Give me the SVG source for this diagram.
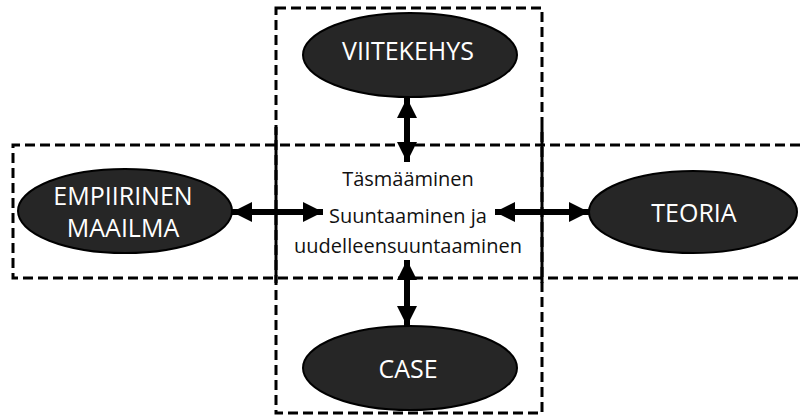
<svg xmlns="http://www.w3.org/2000/svg" width="800" height="419" viewBox="0 0 800 419">
  <style>
    .frame { fill: none; stroke: #000; stroke-width: 3; stroke-dasharray: 10 5; }
    .side { stroke: #000; stroke-width: 3; }
    .node ellipse { fill: #262626; stroke: #000; stroke-width: 2; }
    .node text { fill: #fff; font-family: "Open Sans", "Noto Sans", sans-serif; font-size: 25px; text-anchor: middle; }
    .link { stroke: #000; stroke-width: 6; fill: none; marker-start: url(#head); marker-end: url(#head); }
    .label { fill: #111; font-family: "Open Sans", "Noto Sans", sans-serif; font-size: 20px; text-anchor: middle; }
  </style>
  <defs>
    <marker id="head" viewBox="0 0 20 20" refX="20" refY="10" markerWidth="20" markerHeight="20" markerUnits="userSpaceOnUse" orient="auto-start-reverse">
      <path d="M0,0 L20,10 L0,20 Z" fill="#000"/>
    </marker>
  </defs>
  <rect width="800" height="419" fill="#fff"/>

  <!-- dashed frames -->
  <g id="frames">
    <rect class="frame" x="276" y="8" width="266" height="405"/>
    <path class="frame" d="M800,145 H13 V278 H800"/>
    <line class="side" x1="276" y1="127" x2="276" y2="283"/>
    <line class="side" x1="542" y1="127" x2="542" y2="283"/>
  </g>

  <!-- connectors -->
  <g id="connectors">
    <line class="link" x1="407" y1="98" x2="407" y2="162"/>
    <line class="link" x1="407" y1="260" x2="407" y2="326"/>
    <line class="link" x1="232" y1="212" x2="323" y2="212"/>
    <line class="link" x1="495" y1="212" x2="589" y2="212"/>
  </g>

  <g id="viitekehys" class="node">
    <ellipse cx="410" cy="55" rx="107" ry="42"/>
    <text x="408" y="60">VIITEKEHYS</text>
  </g>
  <g id="empiirinen-maailma" class="node">
    <ellipse cx="125" cy="211" rx="107" ry="42"/>
    <text x="123" y="205">EMPIIRINEN</text>
    <text x="123" y="237">MAAILMA</text>
  </g>
  <g id="teoria" class="node">
    <ellipse cx="693" cy="212" rx="104" ry="41"/>
    <text x="694" y="222">TEORIA</text>
  </g>
  <g id="case" class="node">
    <ellipse cx="410" cy="368" rx="107" ry="42"/>
    <text x="408" y="378">CASE</text>
  </g>

  <g id="centre">
    <text class="label" x="408" y="186">Täsmääminen</text>
    <text class="label" x="408" y="223">Suuntaaminen ja</text>
    <text class="label" x="408" y="253">uudelleensuuntaaminen</text>
  </g>
</svg>
